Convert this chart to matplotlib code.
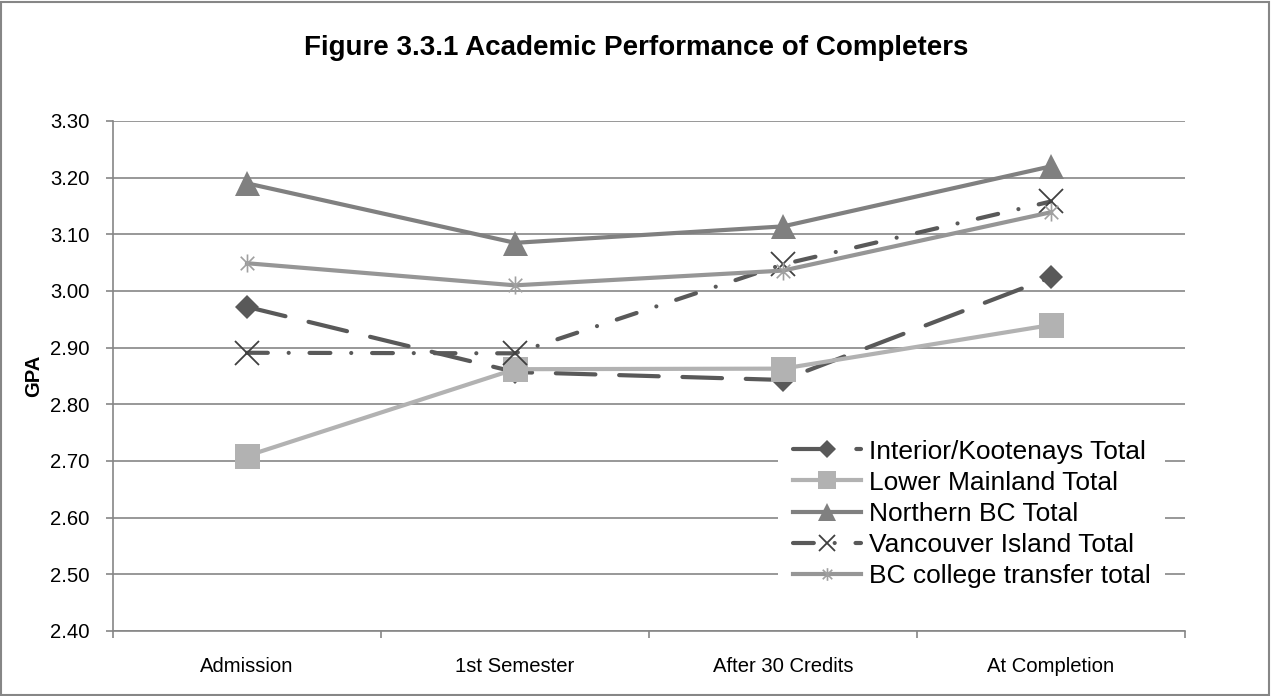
import matplotlib
matplotlib.use("Agg")
import matplotlib.pyplot as plt
from matplotlib.path import Path
from matplotlib.patches import Rectangle
import numpy as np

plt.rcParams['font.family'] = ['Liberation Sans', 'DejaVu Sans']

categories = ["Admission", "1st Semester", "After 30 Credits", "At Completion"]
interior = [2.972, 2.857, 2.843, 3.024]
lower_mainland = [2.709, 2.862, 2.863, 2.940]
northern = [3.190, 3.085, 3.114, 3.220]
vancouver = [2.891, 2.890, 3.047, 3.158]
bc_transfer = [3.049, 3.010, 3.036, 3.139]
yticks = [2.40, 2.50, 2.60, 2.70, 2.80, 2.90, 3.00, 3.10, 3.20, 3.30]

fig = plt.figure(figsize=(12.72, 6.96), dpi=100)
ax = fig.add_axes([113/1272, 1-631/696, (1185-113)/1272, (631-121)/696])

x = np.arange(len(categories))

# custom asterisk marker: vertical line + X
ast = Path([(0, -1), (0, 1), (-0.75, -0.75), (0.75, 0.75), (-0.75, 0.75), (0.75, -0.75)],
           [Path.MOVETO, Path.LINETO, Path.MOVETO, Path.LINETO, Path.MOVETO, Path.LINETO])

lw = 3.0
ax.plot(x, interior, color='#595959', lw=lw, linestyle=(0, (9.5, 5.7)),
        dash_capstyle='round', marker='D', markersize=12.5, markeredgewidth=0,
        label='Interior/Kootenays Total', zorder=3)
ax.plot(x, lower_mainland, color='#b2b2b2', lw=lw, marker='s', markersize=18,
        markeredgewidth=0, label='Lower Mainland Total', zorder=3)
ax.plot(x, northern, color='#808080', lw=lw, marker='^', markersize=18,
        markeredgewidth=0, label='Northern BC Total', zorder=3)
ax.plot(x, vancouver, color='#595959', lw=lw, linestyle=(0, (5, 5, 0.01, 5)),
        dash_capstyle='round', marker='x', markersize=17, markeredgewidth=1.3,
        markeredgecolor='#404040', label='Vancouver Island Total', zorder=3)
ax.plot(x, bc_transfer, color='#969696', lw=lw, marker=ast, markersize=13,
        markeredgewidth=1.2, markeredgecolor='#a0a0a0', label='BC college transfer total', zorder=3)

ax.set_xlim(-0.5, len(categories) - 0.5)
ax.set_ylim(2.40, 3.30)
ax.set_yticks(yticks)
ax.set_yticklabels([f"{v:.2f}" for v in yticks])
ax.set_xticks(x)
ax.set_xticklabels(categories)
ax.set_xticks(np.arange(-0.5, len(categories)), minor=True)
ax.tick_params(axis='x', which='major', length=0, pad=18.5, labelsize=14.6)
ax.tick_params(axis='x', which='minor', length=5, color='#868686', width=1.2)
ax.tick_params(axis='y', length=5, color='#868686', width=1.2, labelsize=14.6, pad=12)

ax.grid(axis='y', color='#868686', lw=1.2)
ax.set_axisbelow(True)
for s in ['top', 'right']:
    ax.spines[s].set_visible(False)
for s in ['left', 'bottom']:
    ax.spines[s].set_color('#868686')
    ax.spines[s].set_linewidth(1.2)

ax.set_ylabel('GPA', fontsize=14.6, fontweight='bold', labelpad=5)

fig.text(0.5, 1-48/696, 'Figure 3.3.1 Academic Performance of Completers',
         ha='center', va='center', fontsize=20, fontweight='bold')

leg = ax.legend(loc='upper left', bbox_to_anchor=((778-113)/1072, (631-425)/510),
                frameon=True, fontsize=19, handlelength=2.6, handletextpad=0.3,
                labelspacing=0.27, borderpad=0.55, borderaxespad=0, framealpha=1,
                markerscale=0.7)
leg.get_frame().set_edgecolor('none')
leg.get_frame().set_facecolor('white')

fig.patches.append(Rectangle((0.001, 0.0015), 0.997, 0.996, transform=fig.transFigure,
                             fill=False, edgecolor='#868686', lw=1.5))

fig.savefig('out.png', dpi=100)
